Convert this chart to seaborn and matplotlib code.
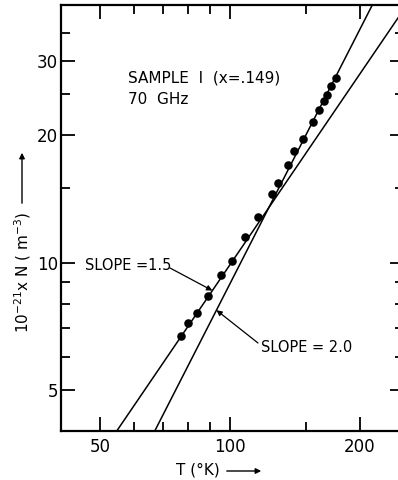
import numpy as np
import pandas as pd
import matplotlib
matplotlib.use("Agg")
import matplotlib.pyplot as plt
from matplotlib.patches import FancyArrowPatch
from matplotlib.ticker import FixedLocator, NullFormatter, FixedFormatter
import seaborn as sns

# Measured carrier density versus temperature
temperature = [76.8, 79.9, 83.7, 88.9, 95.3, 101.1, 108.3, 116.3, 124.8, 129.2,
               136.2, 140.7, 147.6, 155.5, 161.0, 165.3, 167.8, 171.4, 176.0]
density = [6.71, 7.19, 7.60, 8.34, 9.35, 10.1, 11.5, 12.85, 14.52, 15.41,
           17.05, 18.40, 19.64, 21.48, 22.93, 24.07, 24.96, 26.12, 27.29]

# Power-law guide lines: N = N100 * (T/100)**slope
slopes = [1.5, 2.0]
n_at_100 = [9.9, 8.93]
slope_labels = ["SLOPE =1.5", "SLOPE = 2.0"]

x_major = [50, 100, 200]
x_minor = [60, 70, 80, 90, 150]
y_major = [5, 10, 20, 30]
y_minor = [6, 7, 8, 9, 15, 25, 35]

sns.set_style("ticks")
plt.rcParams["font.family"] = ["DejaVu Sans"]
plt.rcParams["text.color"] = "black"

W, H = 398, 480
fig = plt.figure(figsize=(W / 100, H / 100), dpi=100)
ax = fig.add_axes([61 / W, 1 - 431 / H, (404 - 61) / W, (431 - 5) / H])

xlim = (40.6, 252.8)
ylim = (4.0, 40.7)


def fig_xy(px, py):
    return (px / W, 1 - py / H)


def guide(i, t):
    return n_at_100[i] * (t / 100.0) ** slopes[i]


t_grid = np.geomspace(xlim[0], xlim[1], 200)
for i in range(len(slopes)):
    line_df = pd.DataFrame({"T": t_grid, "N": guide(i, t_grid)})
    sns.lineplot(data=line_df, x="T", y="N", ax=ax, color="black", lw=1.1,
                 estimator=None, sort=False)

pts = pd.DataFrame({"T": temperature, "N": density})
sns.scatterplot(data=pts, x="T", y="N", ax=ax, color="black", s=38,
                edgecolor="black", linewidth=0, zorder=5)

ax.set_xscale("log")
ax.set_yscale("log")
ax.set_xlim(*xlim)
ax.set_ylim(*ylim)

ax.xaxis.set_major_locator(FixedLocator(x_major))
ax.xaxis.set_major_formatter(FixedFormatter([str(v) for v in x_major]))
ax.xaxis.set_minor_locator(FixedLocator(x_minor))
ax.xaxis.set_minor_formatter(NullFormatter())
ax.yaxis.set_major_locator(FixedLocator(y_major))
ax.yaxis.set_major_formatter(FixedFormatter([str(v) for v in y_major]))
ax.yaxis.set_minor_locator(FixedLocator(y_minor))
ax.yaxis.set_minor_formatter(NullFormatter())

ax.tick_params(which="both", direction="in", top=True, right=True,
               width=1.3, color="black", labelsize=12, labelcolor="black")
ax.tick_params(which="major", length=10)
ax.tick_params(which="minor", length=6.5)
ax.tick_params(axis="y", pad=2)
ax.tick_params(axis="x", pad=5)
for sp in ax.spines.values():
    sp.set_visible(True)
    sp.set_linewidth(1.6)
    sp.set_color("black")
ax.set_xlabel("")
ax.set_ylabel("")

# Sample description
ax.text(0.195, 0.829, "SAMPLE  I  (x=.149)", transform=ax.transAxes,
        fontsize=11, ha="left", va="center", color="black")
ax.text(0.195, 0.777, "70  GHz", transform=ax.transAxes,
        fontsize=11, ha="left", va="center", color="black")

# Slope labels with leader arrows onto each guide line
label_pos = [fig_xy(128, 265), fig_xy(307, 348)]
arrow_start = [fig_xy(170, 268), fig_xy(258, 343)]
arrow_t = [91.0, 93.0]
for i in range(len(slopes)):
    fig.text(*label_pos[i], slope_labels[i], fontsize=10.5,
             ha="center", va="center", color="black")
    ax.annotate("", xy=(arrow_t[i], guide(i, arrow_t[i])),
                xytext=arrow_start[i], textcoords="figure fraction",
                arrowprops=dict(arrowstyle="-|>", color="black", lw=0.9,
                                mutation_scale=8, shrinkA=0, shrinkB=0))

# Axis titles with direction arrows
fig.text(*fig_xy(198, 470), "T (°K)", fontsize=11, ha="center", va="center",
         color="black")
fig.add_artist(FancyArrowPatch(
    fig_xy(224, 471), fig_xy(264, 471), transform=fig.transFigure,
    arrowstyle="-|>", mutation_scale=8, color="black", lw=1.0))
fig.text(*fig_xy(23, 272), r"$\mathregular{10^{-21}}$x N ( m$\mathregular{^{-3}}$)",
         fontsize=11, rotation=90, ha="center", va="center", color="black")
fig.add_artist(FancyArrowPatch(
    fig_xy(22, 206), fig_xy(22, 150), transform=fig.transFigure,
    arrowstyle="-|>", mutation_scale=8, color="black", lw=1.0))

fig.savefig("out.png", dpi=100, facecolor="white")
